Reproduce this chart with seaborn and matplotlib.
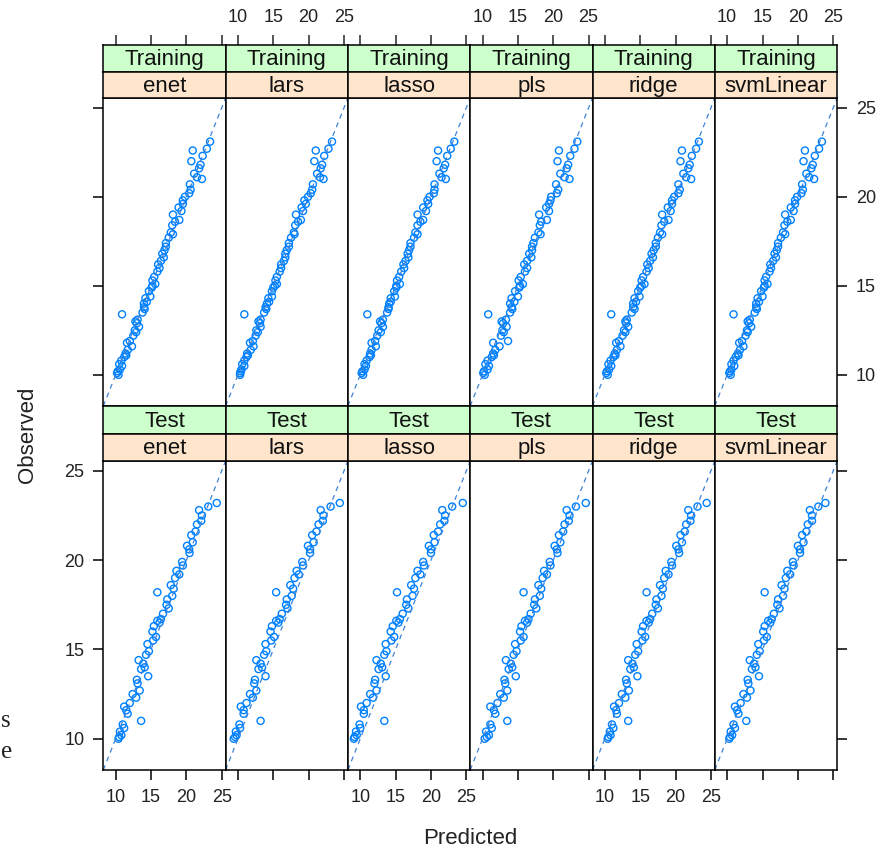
import numpy as np
import pandas as pd
import matplotlib
matplotlib.use('Agg')
import matplotlib.pyplot as plt
import seaborn as sns

models = ['enet', 'lars', 'lasso', 'pls', 'ridge', 'svmLinear']
data_sets = ['Training', 'Test']
axis_ticks = [10, 15, 20, 25]

# observed values (shared by every model)
train_obs = [10.0, 10.1, 10.3, 10.5, 10.8, 11.0, 11.1, 11.4, 11.6, 11.9,
             12.2, 12.4, 12.7, 12.9, 13.1, 13.4, 13.5, 13.7, 14.0, 14.1,
             14.4, 14.7, 15.0, 15.1, 15.5, 15.8, 16.0, 16.4, 16.8, 17.0,
             17.4, 17.7, 18.0, 18.4, 18.7, 19.0, 19.4, 19.8, 20.0, 20.4,
             20.7, 21.0, 21.1, 21.6, 22.0, 22.3, 22.6, 22.7, 23.1,
             10.2, 10.6, 11.2, 11.8, 12.5, 13.0, 13.8, 14.3, 14.9, 15.3,
             16.2, 16.6, 17.2, 17.9, 18.6, 19.2, 19.6, 20.2, 21.3, 21.8]
test_obs = [10.0, 10.2, 10.4, 10.6, 11.0, 11.4, 11.8, 12.0, 12.3, 12.7,
            13.1, 13.5, 13.9, 14.2, 14.4, 14.9, 15.3, 15.7, 16.0, 16.3,
            16.6, 16.7, 17.0, 17.3, 17.8, 18.0, 18.2, 18.6, 19.0, 19.2,
            19.4, 19.9, 20.4, 20.8, 21.4, 21.6, 22.0, 22.5, 22.8, 23.2,
            10.1, 10.8, 11.6, 12.5, 13.3, 14.0, 14.7, 15.5, 16.5, 17.5,
            18.4, 19.7, 20.6, 21.0, 22.2, 23.0]

# predicted values, training set
train_enet = [10.4, 10.2, 10.6, 10.9, 10.8, 11.2, 11.5, 11.7, 12.3, 12.0,
              12.5, 12.9, 13.3, 13.0, 13.1, 10.9, 13.8, 14.1, 14.0, 14.4,
              14.9, 14.7, 15.2, 15.6, 15.45, 15.9, 16.2, 16.4, 16.6, 16.9,
              17.1, 17.5, 17.8, 18.0, 19.0, 18.1, 18.9, 19.5, 19.8, 20.6,
              20.5, 22.2, 21.5, 21.8, 20.7, 22.3, 20.9, 22.9, 23.35,
              10.3, 10.5, 11.4, 11.6, 12.7, 12.8, 14.0, 14.2, 15.1, 15.2,
              16.0, 16.8, 17.1, 18.1, 18.4, 19.3, 19.5, 20.4, 21.1, 22.0]
train_lars = [10.3, 10.3, 10.5, 10.9, 10.9, 11.2, 11.4, 11.8, 12.2, 12.1,
              12.5, 12.8, 13.2, 13.1, 13.2, 10.9, 13.7, 14.0, 14.1, 14.4,
              14.8, 14.8, 15.2, 15.5, 15.5, 15.9, 16.1, 16.5, 16.7, 16.9,
              17.2, 17.5, 17.9, 18.1, 18.9, 18.2, 19.0, 19.4, 19.9, 20.5,
              20.6, 22.1, 21.6, 21.7, 20.8, 22.2, 21.0, 22.8, 23.3,
              10.4, 10.6, 11.3, 11.7, 12.6, 12.9, 13.9, 14.3, 15.0, 15.3,
              16.1, 16.7, 17.2, 18.0, 18.5, 19.2, 19.6, 20.3, 21.2, 21.9]
train_lasso = [10.4, 10.2, 10.6, 10.8, 10.9, 11.3, 11.5, 11.6, 12.2, 12.1,
               12.4, 12.9, 13.2, 13.0, 13.2, 11.0, 13.8, 14.0, 14.1, 14.3,
               14.9, 14.8, 15.1, 15.6, 15.5, 15.8, 16.2, 16.4, 16.7, 16.9,
               17.1, 17.6, 17.8, 18.1, 18.9, 18.1, 18.9, 19.5, 19.8, 20.5,
               20.5, 22.1, 21.5, 21.8, 20.8, 22.3, 21.0, 22.8, 23.3,
               10.3, 10.6, 11.4, 11.6, 12.6, 12.8, 14.0, 14.3, 15.1, 15.2,
               16.1, 16.8, 17.1, 18.1, 18.5, 19.3, 19.6, 20.4, 21.2, 22.0]
train_pls = [10.3, 10.1, 10.7, 10.9, 10.7, 11.3, 11.6, 11.8, 12.4, 13.6,
             12.6, 13.0, 13.4, 12.9, 13.3, 10.8, 13.9, 14.2, 13.9, 14.5,
             15.0, 14.6, 15.3, 15.7, 15.4, 16.0, 16.3, 16.3, 16.6, 17.0,
             17.2, 17.4, 17.9, 18.1, 19.1, 18.0, 19.0, 19.6, 19.7, 20.7,
             20.4, 22.3, 21.6, 21.9, 20.6, 22.4, 20.8, 23.0, 23.4,
             10.2, 10.4, 11.5, 11.5, 12.8, 12.7, 14.1, 14.1, 15.2, 15.1,
             15.9, 16.9, 17.0, 18.2, 18.3, 19.4, 19.4, 20.5, 21.0, 22.1]
train_ridge = [10.4, 10.2, 10.6, 10.9, 10.8, 11.2, 11.5, 11.7, 12.2, 12.0,
               12.5, 12.9, 13.3, 13.0, 13.1, 10.9, 13.8, 14.2, 14.0, 14.4,
               14.9, 14.7, 15.2, 15.6, 15.4, 15.9, 16.2, 16.4, 16.6, 16.9,
               17.2, 17.5, 17.8, 18.0, 19.0, 18.1, 18.9, 19.5, 19.8, 20.6,
               20.4, 22.2, 21.5, 21.8, 20.7, 22.3, 20.9, 22.9, 23.3,
               10.3, 10.5, 11.4, 11.6, 12.7, 12.9, 14.0, 14.2, 15.0, 15.2,
               16.0, 16.8, 17.2, 18.1, 18.4, 19.3, 19.5, 20.4, 21.1, 22.0]
train_svm = [10.5, 10.3, 10.6, 11.0, 10.9, 11.2, 11.6, 11.8, 12.3, 12.1,
             12.6, 12.9, 13.4, 13.1, 13.2, 10.9, 13.9, 14.2, 14.1, 14.5,
             15.0, 14.8, 15.3, 15.7, 15.5, 16.0, 16.2, 16.5, 16.7, 17.0,
             17.2, 17.6, 17.9, 18.1, 19.0, 18.2, 19.0, 19.6, 19.9, 20.7,
             20.6, 22.3, 21.6, 21.9, 20.8, 22.4, 21.0, 23.0, 23.4,
             10.4, 10.6, 11.5, 11.7, 12.8, 12.9, 14.1, 14.3, 15.2, 15.3,
             16.1, 16.9, 17.2, 18.2, 18.5, 19.4, 19.6, 20.5, 21.2, 22.1]

# predicted values, test set
test_enet = [10.4, 10.8, 10.6, 11.2, 13.6, 11.7, 11.2, 12.0, 12.9, 13.4,
             13.1, 14.6, 13.6, 13.9, 13.25, 14.7, 14.5, 15.7, 15.2, 15.4,
             15.9, 16.4, 16.7, 17.5, 17.3, 18.0, 15.9, 17.8, 18.4, 19.0,
             18.6, 19.4, 20.45, 20.1, 20.7, 21.3, 21.5, 22.2, 21.8, 24.3,
             10.5, 11.0, 11.5, 12.4, 13.0, 14.1, 14.3, 15.3, 16.2, 17.2,
             18.2, 19.5, 20.4, 20.9, 22.1, 23.1]
test_lars = [9.4, 9.8, 9.7, 10.3, 13.2, 10.8, 10.4, 11.2, 12.1, 12.6,
             12.3, 13.9, 12.9, 13.2, 12.6, 14.0, 13.9, 15.1, 14.6, 14.8,
             15.4, 15.9, 16.2, 17.0, 16.9, 17.6, 15.4, 17.4, 18.0, 18.6,
             18.3, 19.1, 20.2, 19.9, 20.5, 21.1, 21.4, 22.1, 21.7, 24.4,
             9.6, 10.2, 10.8, 11.7, 12.4, 13.4, 13.7, 14.7, 15.7, 16.8,
             17.8, 19.2, 20.2, 20.7, 22.0, 23.1]
test_lasso = [9.1, 9.5, 9.4, 10.0, 13.4, 10.5, 10.1, 10.9, 11.8, 12.3,
              12.0, 13.6, 12.6, 12.9, 12.3, 13.7, 13.6, 14.8, 14.3, 14.6,
              15.1, 15.6, 16.0, 16.8, 16.6, 17.4, 15.2, 17.2, 17.8, 18.5,
              18.1, 18.9, 20.0, 19.7, 20.4, 21.0, 21.3, 22.0, 21.6, 24.5,
              9.2, 9.9, 10.5, 11.4, 12.1, 13.1, 13.4, 14.4, 15.4, 16.5,
              17.6, 19.0, 20.0, 20.5, 21.9, 23.0]
test_pls = [10.3, 10.9, 10.5, 11.3, 13.5, 11.8, 11.1, 12.1, 13.0, 13.5,
            13.2, 14.7, 13.7, 14.0, 13.3, 14.8, 14.6, 15.8, 15.3, 15.5,
            16.0, 16.5, 16.8, 17.6, 17.4, 18.1, 15.8, 17.9, 18.5, 19.1,
            18.7, 19.5, 20.6, 20.2, 20.8, 21.4, 21.6, 22.3, 21.9, 24.6,
            10.6, 11.1, 11.6, 12.5, 13.1, 14.2, 14.4, 15.4, 16.3, 17.3,
            18.3, 19.6, 20.5, 21.0, 22.2, 23.2]
test_ridge = [10.4, 10.8, 10.7, 11.2, 13.3, 11.7, 11.3, 12.0, 12.9, 13.4,
              13.1, 14.6, 13.6, 13.9, 13.3, 14.7, 14.5, 15.7, 15.2, 15.4,
              15.9, 16.4, 16.7, 17.5, 17.3, 18.0, 15.9, 17.8, 18.4, 19.0,
              18.6, 19.4, 20.5, 20.1, 20.7, 21.3, 21.5, 22.2, 21.8, 24.4,
              10.5, 11.0, 11.6, 12.4, 13.0, 14.1, 14.3, 15.3, 16.2, 17.2,
              18.2, 19.5, 20.4, 20.9, 22.1, 23.1]
test_svm = [10.3, 10.7, 10.5, 11.1, 12.7, 11.6, 11.1, 11.9, 12.8, 13.3,
            13.0, 14.5, 13.5, 13.8, 13.2, 14.6, 14.4, 15.6, 15.1, 15.3,
            15.8, 16.3, 16.6, 17.4, 17.2, 17.9, 15.3, 17.7, 18.3, 18.9,
            18.5, 19.3, 20.3, 20.0, 20.6, 21.2, 21.4, 22.0, 21.7, 23.9,
            10.4, 10.9, 11.4, 12.3, 12.9, 14.0, 14.2, 15.2, 16.1, 17.1,
            18.1, 19.4, 20.3, 20.8, 22.0, 22.9]

train_preds = [train_enet, train_lars, train_lasso, train_pls, train_ridge, train_svm]
test_preds = [test_enet, test_lars, test_lasso, test_pls, test_ridge, test_svm]

frames = []
for m, tp, sp in zip(models, train_preds, test_preds):
    frames.append(pd.DataFrame({'model': m, 'set': 'Training', 'pred': tp, 'obs': train_obs}))
    frames.append(pd.DataFrame({'model': m, 'set': 'Test', 'pred': sp, 'obs': test_obs}))
df = pd.concat(frames, ignore_index=True)

sns.set_style('white')
plt.rcParams['font.family'] = ['Liberation Sans', 'DejaVu Sans']

W, H = 890, 852
fig = plt.figure(figsize=(W / 100, H / 100), dpi=100)


def box(left, top, w, h):
    return [left / W, 1 - (top + h) / H, w / W, h / H]


lim = (8.25, 25.55)
blue = '#0080ff'
green = '#ccffcc'
orange = '#ffe5cc'
col_left = 103.3
col_w = 122.3
rows = {'Training': (45, 26.5, 71.5, 26.5, 98, 308),
        'Test': (406, 27.5, 433.5, 27.5, 461, 309)}

for r, s in enumerate(data_sets):
    g_top, g_h, o_top, o_h, p_top, p_h = rows[s]
    for c, m in enumerate(models):
        x0 = col_left + c * col_w
        ax = fig.add_axes(box(x0, p_top, col_w, p_h))
        sub = df[(df['model'] == m) & (df['set'] == s)]
        sns.scatterplot(data=sub, x='pred', y='obs', ax=ax, marker='o', s=26,
                        facecolor='none', edgecolor=blue, linewidth=1.0)
        ax.axline((10, 10), slope=1, color='#3d82d6', lw=0.9, ls=(0, (4, 3.5)))
        ax.set_xlim(lim)
        ax.set_ylim(lim)
        ax.set_xlabel('')
        ax.set_ylabel('')
        ax.set_xticks(axis_ticks)
        ax.set_yticks(axis_ticks)
        for sp in ax.spines.values():
            sp.set_color('black')
            sp.set_linewidth(1.1)
        ax.tick_params(length=7.5, width=1.1, color='black', labelsize=13,
                       labelcolor='#222222', direction='out')
        # x axis: only bottom row shows ticks under the panels
        if s == 'Test':
            ax.tick_params(axis='x', bottom=True, top=False, pad=6,
                           labelbottom=(c % 2 == 0), labeltop=False)
        else:
            ax.tick_params(axis='x', bottom=False, top=False,
                           labelbottom=False, labeltop=False)
        # y axis: only outer columns
        ax.tick_params(axis='y', left=(c == 0), right=(c == 5),
                       labelleft=(c == 0 and s == 'Test'),
                       labelright=(c == 5 and s == 'Training'), pad=6)

        # strips
        for top, h, colr, label, is_top in [(g_top, g_h, green, s, True),
                                            (o_top, o_h, orange, m, False)]:
            sax = fig.add_axes(box(x0, top, col_w, h))
            sax.set_facecolor(colr)
            sax.set_xlim(lim)
            sax.set_ylim(0, 1)
            sax.set_yticks([])
            for sp in sax.spines.values():
                sp.set_color('black')
                sp.set_linewidth(1.1)
            if is_top and s == 'Training':
                sax.xaxis.tick_top()
                sax.set_xticks(axis_ticks)
                sax.tick_params(axis='x', top=True, bottom=False, length=7.5,
                                width=1.1, labelsize=13, labelcolor='#222222',
                                labeltop=(c % 2 == 1), labelbottom=False, pad=6)
            else:
                sax.set_xticks([])
            sax.text(16.9, 0.45, label, ha='center', va='center', fontsize=16,
                     color='#111111')

fig.text(28 / W, 1 - 435 / H, 'Observed', rotation=90, ha='center', va='center',
         fontsize=16, color='#222222')
fig.text(470 / W, 1 - 838 / H, 'Predicted', ha='center', va='center',
         fontsize=16, color='#222222')
# fragments of neighbouring page text at the left edge
fig.text(0.001, 1 - 721 / H, 's', ha='left', va='center', fontsize=18,
         family='Liberation Serif', color='#222222')
fig.text(0.001, 1 - 752 / H, 'e', ha='left', va='center', fontsize=18,
         family='Liberation Serif', color='#222222')

fig.savefig('out.png', dpi=100)
